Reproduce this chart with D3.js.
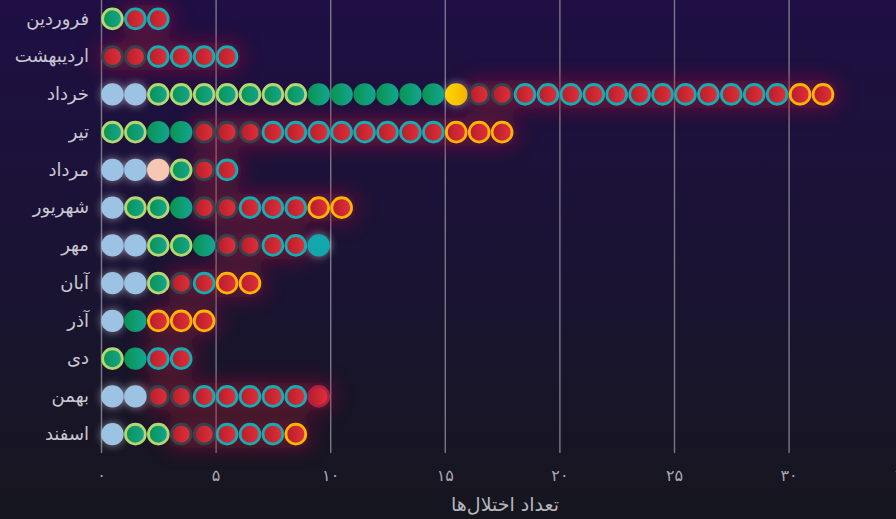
<!DOCTYPE html>
<html>
<head>
<meta charset="utf-8">
<script src="https://cdn.jsdelivr.net/npm/d3@7"></script>
<style>
  body { margin: 0; background: #16161f; overflow: hidden; }
  text { font-family: "DejaVu Sans", sans-serif; }
</style>
</head>
<body>
<div id="chart"></div>
<script>
// months, top to bottom
const months = ["فروردین", "اردیبهشت", "خرداد", "تیر", "مرداد", "شهریور", "مهر", "آبان", "آذر", "دی", "بهمن", "اسفند"]

// count of each kind of disorder per month (drawn in this order, left to right)
const blue       = [0, 0, 2, 0, 2, 1, 2, 2, 1, 0, 2, 1]
const peach      = [0, 0, 0, 0, 1, 0, 0, 0, 0, 0, 0, 0]
const greenRing  = [1, 0, 7, 2, 1, 2, 2, 1, 0, 1, 0, 2]
const green      = [0, 0, 6, 2, 0, 1, 1, 0, 1, 1, 0, 0]
const yellow     = [0, 0, 1, 0, 0, 0, 0, 0, 0, 0, 0, 0]
const redDark    = [0, 2, 2, 3, 1, 2, 2, 1, 0, 0, 2, 2]
const redTeal    = [2, 4, 12, 8, 1, 3, 2, 1, 0, 2, 5, 3]
const redOrange  = [0, 0, 2, 3, 0, 2, 0, 2, 3, 0, 0, 1]
const tealFill   = [0, 0, 0, 0, 0, 0, 1, 0, 0, 0, 0, 0]
const redCrimson = [0, 0, 0, 0, 0, 0, 0, 0, 0, 0, 1, 0]

const xTicks = [0, 5, 10, 15, 20, 25, 30, 35]
const xTitle = "تعداد اختلال‌ها"

const series = [
    {key: "blue", values: blue},
    {key: "peach", values: peach},
    {key: "greenRing", values: greenRing},
    {key: "green", values: green},
    {key: "yellow", values: yellow},
    {key: "redDark", values: redDark},
    {key: "redTeal", values: redTeal},
    {key: "redOrange", values: redOrange},
    {key: "tealFill", values: tealFill},
    {key: "redCrimson", values: redCrimson}
]

// look of each kind
const styles = {
    blue:       {fill: "#9dc3e4", stroke: "none", glow: "white"},
    peach:      {fill: "#f6c8b4", stroke: "none", glow: "white"},
    greenRing:  {fill: "url(#gGreen)", stroke: "#b6d672", glow: null},
    green:      {fill: "url(#gGreen)", stroke: "none", glow: null},
    yellow:     {fill: "url(#gYellow)", stroke: "none", glow: "white"},
    redDark:    {fill: "url(#gRed)", stroke: "#34434e", glow: "red"},
    redTeal:    {fill: "url(#gRed)", stroke: "#13adb3", glow: "red"},
    redOrange:  {fill: "url(#gRed)", stroke: "#ffb405", glow: "red"},
    tealFill:   {fill: "#12a7ac", stroke: "none", glow: "white"},
    redCrimson: {fill: "url(#gRed)", stroke: "#b41d4a", glow: "red"}
}

const W = 896, H = 519
const margin = {top: 0, left: 101, plotH: 453}

const svg = d3.select("#chart")
    .append("svg")
    .attr("width", W)
    .attr("height", H)

const defs = svg.append("defs")

const bg = defs.append("linearGradient").attr("id", "bg")
    .attr("x1", 0).attr("y1", 0).attr("x2", 0).attr("y2", 1)
bg.append("stop").attr("offset", "0%").attr("stop-color", "#1f0f44")
bg.append("stop").attr("offset", "55%").attr("stop-color", "#1a1432")
bg.append("stop").attr("offset", "100%").attr("stop-color", "#16161e")

function hGrad(id, c1, c2) {
    const g = defs.append("linearGradient").attr("id", id)
        .attr("x1", 0).attr("y1", 0).attr("x2", 1).attr("y2", 0)
    g.append("stop").attr("offset", "0%").attr("stop-color", c1)
    g.append("stop").attr("offset", "100%").attr("stop-color", c2)
}
hGrad("gRed", "#b51e2a", "#e2303b")
hGrad("gGreen", "#0a9350", "#13a593")
hGrad("gYellow", "#ffd600", "#f2b400")

function blurFilter(id, sd) {
    defs.append("filter").attr("id", id)
        .attr("x", "-100%").attr("y", "-100%")
        .attr("width", "300%").attr("height", "300%")
        .append("feGaussianBlur").attr("stdDeviation", sd)
}
blurFilter("blurRed", 10)
blurFilter("blurWhite", 4)

svg.append("rect")
    .attr("width", W).attr("height", H)
    .attr("fill", "url(#bg)")

const x = d3.scaleLinear()
    .domain([0, 35])
    .range([margin.left, margin.left + 35 * 22.92])

const y = d3.scaleBand()
    .domain(months)
    .range([margin.top, margin.plotH])

const fa = d => String(d).replace(/\d/g, c => "۰۱۲۳۴۵۶۷۸۹"[c])

// grid
const grid = svg.append("g")
    .attr("transform", "translate(0," + margin.plotH + ")")
    .call(d3.axisBottom(x).tickValues(xTicks).tickSize(-margin.plotH).tickFormat(""))
grid.select(".domain").remove()
grid.selectAll("line")
    .attr("stroke", "#9a99a5")
    .attr("stroke-opacity", 0.75)
    .attr("stroke-width", 1.4)

// tick labels
const xAxis = svg.append("g")
    .attr("transform", "translate(0,467)")
    .call(d3.axisBottom(x).tickValues(xTicks).tickSize(0).tickFormat(fa))
xAxis.select(".domain").remove()
xAxis.selectAll("text")
    .attr("font-size", "16px")
    .attr("font-family", "DejaVu Sans, sans-serif")
    .attr("fill", "#a9a9b4")

svg.append("text")
    .attr("x", 505)
    .attr("y", 511)
    .attr("text-anchor", "middle")
    .attr("font-size", "19px")
    .attr("fill", "#b5b5be")
    .text(xTitle)

// month labels
const yAxis = svg.append("g")
    .attr("transform", "translate(89,0)")
    .call(d3.axisLeft(y).tickSize(0).tickPadding(0))
yAxis.select(".domain").remove()
yAxis.selectAll("text")
    .attr("font-size", "18px")
    .attr("font-family", "DejaVu Sans, sans-serif")
    .attr("fill", "#c9c8d2")

// flatten to one dot per disorder
const dots = []
months.forEach((m, i) => {
    let pos = 0
    series.forEach(s => {
        for (let k = 0; k < s.values[i]; k++) {
            dots.push({month: m, pos: pos, key: s.key})
            pos++
        }
    })
})

const cy = d => y(d.month) + y.bandwidth() / 2
const cx = d => x(d.pos + 0.5)

// glows
svg.append("g")
    .attr("filter", "url(#blurRed)")
    .selectAll("circle")
    .data(dots.filter(d => styles[d.key].glow === "red"))
    .enter()
    .append("circle")
    .attr("cx", cx)
    .attr("cy", cy)
    .attr("r", 15)
    .attr("fill", "#b0163a")
    .attr("opacity", 0.5)

svg.append("g")
    .attr("filter", "url(#blurWhite)")
    .selectAll("circle")
    .data(dots.filter(d => styles[d.key].glow === "white"))
    .enter()
    .append("circle")
    .attr("cx", cx)
    .attr("cy", cy)
    .attr("r", 11.5)
    .attr("fill", "#ffffff")
    .attr("opacity", 0.45)

// dots
svg.append("g")
    .selectAll("circle")
    .data(dots)
    .enter()
    .append("circle")
    .attr("cx", cx)
    .attr("cy", cy)
    .attr("r", d => styles[d.key].stroke === "none" ? 11.2 : 9.9)
    .attr("fill", d => styles[d.key].fill)
    .attr("stroke", d => styles[d.key].stroke)
    .attr("stroke-width", 2.8)
</script>
</body>
</html>
